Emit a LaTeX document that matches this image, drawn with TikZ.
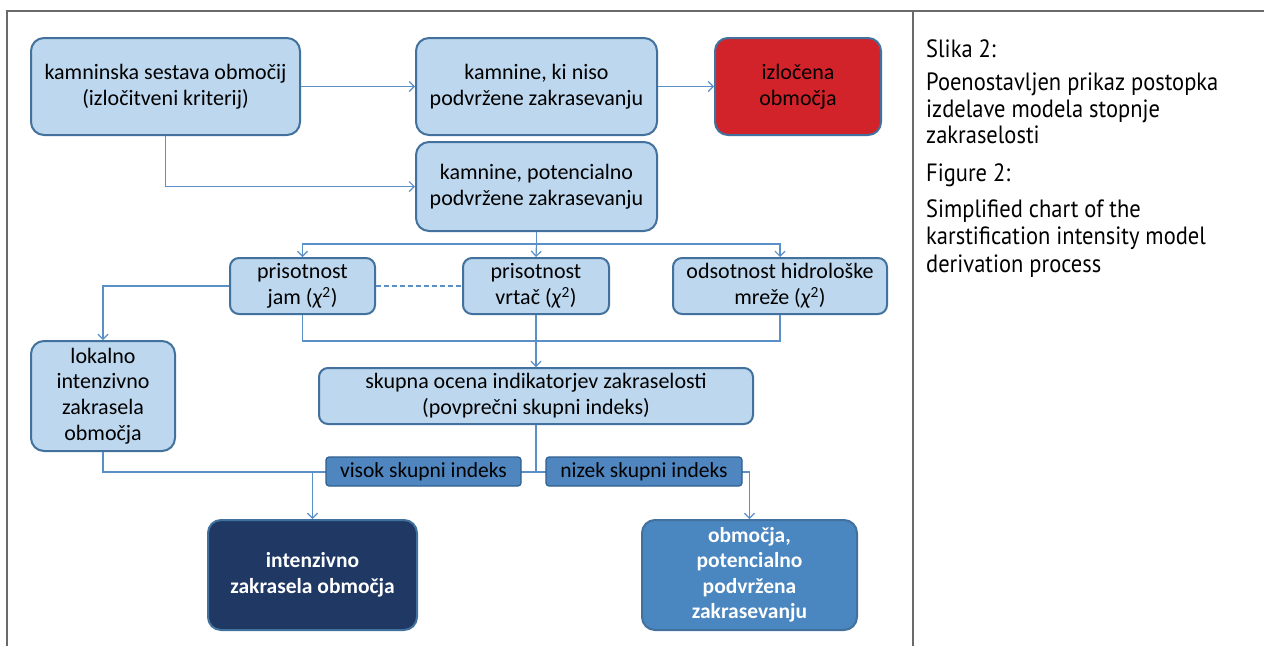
\documentclass[tikz,border=0pt]{standalone}
\usepackage{fontspec}
\setmainfont{Carlito}
\newfontfamily\capfont[FakeStretch=0.9]{PT Sans}
\usetikzlibrary{arrows.meta}
\definecolor{boxfill}{HTML}{BDD7EE}
\definecolor{boxdraw}{HTML}{41719C}
\definecolor{conn}{HTML}{5B8FC8}
\definecolor{redfill}{HTML}{D2232A}
\definecolor{navy}{HTML}{1F3864}
\definecolor{steel}{HTML}{4A86C0}
\definecolor{midfill}{HTML}{4F86BF}
\definecolor{midline}{HTML}{2F5F8F}
\definecolor{framec}{HTML}{6A6A6A}
\newcommand{\chisq}{(\textit{χ}\textsuperscript{2})}
\begin{document}
\begin{tikzpicture}[x=1pt,y=-1pt,
  box/.style={draw=boxdraw, line width=2pt, fill=boxfill, rounded corners=13pt,
    align=center, inner sep=0pt, font=\fontsize{22}{25.8}\selectfont},
  smallbox/.style={box, rounded corners=9pt},
  redbox/.style={box, fill=redfill},
  navybox/.style={box, fill=navy, draw=boxdraw, text=white, font=\fontsize{21.5}{25.5}\selectfont\bfseries},
  steelbox/.style={navybox, fill=steel},
  tagbox/.style={draw=midline, line width=1.2pt, fill=midfill, rounded corners=3pt,
    inner sep=0pt, font=\fontsize{21.5}{24}\selectfont},
  conn/.style={draw=conn, line width=1.2pt},
  arr/.style={conn, -{Straight Barb[length=5pt,width=10pt]}},
  captxt/.style={anchor=base west, inner sep=0pt, font=\capfont\fontsize{25}{27}\selectfont},
  framel/.style={draw=framec, line width=1.5pt}
]
\useasboundingbox (0,0) rectangle (1264,646);
\fill[white] (0,0) rectangle (1264,646);

% frame
\draw[framel] (7,646) -- (7,11) -- (1264,11);
\draw[framel] (913,11) -- (913,646);

% nodes
\node[box, minimum width=269pt, minimum height=97pt] (A) at (165.5,86.5)
  {kamninska sestava območij\\(izločitveni kriterij)};
\node[box, minimum width=241pt, minimum height=97pt] (B) at (536.5,86.5)
  {kamnine, ki niso\\podvržene zakrasevanju};
\node[redbox, minimum width=166pt, minimum height=97pt] (C) at (798,86.5)
  {izločena\\območja};
\node[box, minimum width=241pt, minimum height=89pt] (D) at (536.5,186.5)
  {kamnine, potencialno\\podvržene zakrasevanju};
\node[smallbox, minimum width=145pt, minimum height=56pt] (E) at (302.5,286)
  {prisotnost\\jam \chisq};
\node[smallbox, minimum width=146pt, minimum height=56pt] (F) at (536,286)
  {prisotnost\\vrtač \chisq};
\node[smallbox, minimum width=214pt, minimum height=56pt] (G) at (780,286)
  {odsotnost hidrološke\\mreže \chisq};
\node[box, minimum width=144pt, minimum height=110pt] (H) at (103,396)
  {lokalno\\intenzivno\\zakrasela\\območja};
\node[smallbox, minimum width=434pt, minimum height=56pt] (I) at (536,396)
  {skupna ocena indikatorjev zakraselosti\\(povprečni skupni indeks)};
\node[navybox, minimum width=209pt, minimum height=110pt] (L) at (312.5,575)
  {intenzivno\\zakrasela območja};
\node[steelbox, minimum width=215pt, minimum height=110pt] (M) at (749.5,575)
  {območja,\\potencialno\\podvržena\\zakrasevanju};

% connectors
\draw[arr] (A) -- (B);
\draw[arr] (B) -- (C);
\draw[arr] (A.south) |- (D.west);
\coordinate (bus1) at (536.5,244);
\draw[conn] (D.south) -- (bus1);
\draw[arr] (bus1) -| (E.north);
\draw[arr] (bus1) -- (F.north);
\draw[arr] (bus1) -| (G.north);
\draw[arr] (E.west) -| (H.north);
\draw[conn, dashed, dash pattern=on 5pt off 3pt] (E) -- (F);
\coordinate (bus2) at (536,341);
\draw[conn] (E.south) |- (bus2) -| (G.south);
\draw[arr] (F.south) -- (I.north);
\coordinate (bus3) at (536,472);
\draw[conn] (I.south) -- (bus3);
\draw[conn] (H.south) |- (bus3);
\draw[arr] (L.north |- bus3) -- (L.north);
\draw[arr] (bus3) -| (M.north);

% labels on the lines
\node[tagbox, minimum width=195pt, minimum height=29pt] (J) at (423.5,471.5) {visok skupni indeks};
\node[tagbox, minimum width=196pt, minimum height=29pt] (K) at (644,471.5) {nizek skupni indeks};

% caption
\node[captxt] (c1) at (926,57) {Slika 2:};
\node[captxt] (c2) at (926,90) {Poenostavljen prikaz postopka};
\node[captxt] (c3) at (926,117) {izdelave modela stopnje};
\node[captxt] (c4) at (926,143) {zakraselosti};
\node[captxt] (c5) at (926,181) {Figure 2:};
\node[captxt] (c6) at (926,217) {Simplified chart of the};
\node[captxt] (c7) at (926,244) {karstification intensity model};
\node[captxt] (c8) at (926,272) {derivation process};
\end{tikzpicture}
\end{document}
